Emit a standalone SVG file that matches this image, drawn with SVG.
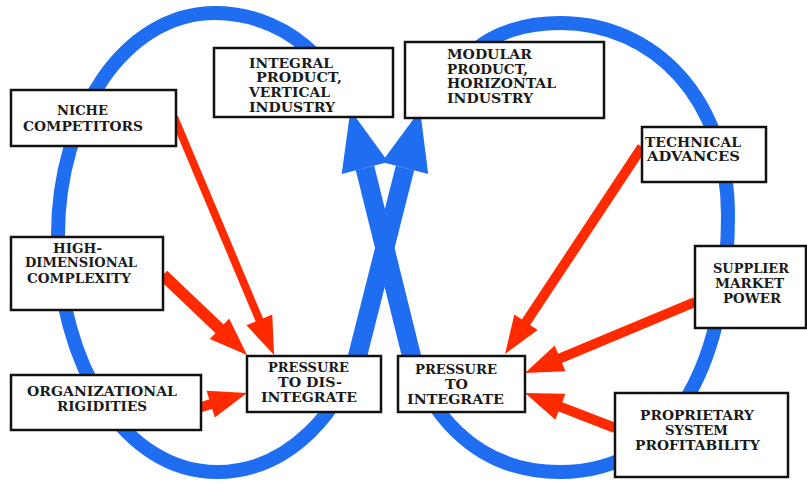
<svg xmlns="http://www.w3.org/2000/svg" width="807" height="484" viewBox="0 0 807 484">
  <style>
    .box { fill: #ffffff; stroke: #111111; stroke-width: 2.5; }
    .lbl { font-family: "DejaVu Serif", "Liberation Serif", serif; font-weight: bold; font-size: 12.5px; fill: #1a1a1a; }
    .loop { fill: none; stroke: #1f6ef2; stroke-width: 14; }
    .shaft { fill: none; stroke: #1f6ef2; stroke-width: 19; }
    .head { fill: #1f6ef2; }
    .force { fill: none; stroke: #ff2a00; stroke-width: 10; marker-end: url(#redHead); }
  </style>
  <defs>
    <marker id="redHead" markerUnits="userSpaceOnUse" markerWidth="38" markerHeight="28" refX="4" refY="14" orient="auto" overflow="visible">
      <path d="M0,0 L38,14 L0,28 Z" fill="#ff2a00"/>
    </marker>
  </defs>

  <!-- connectors: the two feedback loops crossing in the middle, and the pressure arrows -->
  <g id="connectors">
    <!-- left loop: integral -> pressure to dis-integrate -> modular -->
    <path class="loop" d="M 315,55 C 290,30 255,13 215,13 C 125,13 58,115 58,235 C 58,365 125,472 217,472 C 292,472 343,405 356,356"/>
    <line class="shaft" x1="356" y1="362" x2="405" y2="168"/>
    <polygon class="head" points="381.8,162 420.1,110 428.2,174"/>
    <!-- right loop: modular -> pressure to integrate -> integral -->
    <path class="loop" d="M 475,50 C 495,33 525,23 560,23 C 655,23 728,100 728,215 C 728,350 680,472 560,472 C 470,472 426,405 412,356"/>
    <line class="shaft" x1="413" y1="362" x2="365" y2="168"/>
    <polygon class="head" points="341.7,174 350.4,110 388.3,162"/>

    <!-- pressure arrows -->
    <line class="force" style="stroke-width:8" x1="174" y1="117" x2="260.9" y2="323.6"/>
    <line class="force" style="stroke-width:12" x1="163" y1="275" x2="222.4" y2="331.5"/>
    <line class="force" x1="195" y1="409" x2="214.5" y2="403"/>
    <line class="force" x1="642" y1="147" x2="523.8" y2="325.6"/>
    <line class="force" x1="695" y1="302" x2="556.4" y2="359.9"/>
    <line class="force" x1="615" y1="428" x2="556.7" y2="405.3"/>
  </g>

  <g id="integral-vertical">
    <rect class="box" x="214" y="48" width="179" height="69"/>
    <text class="lbl" x="249" y="68" textLength="84" lengthAdjust="spacingAndGlyphs">INTEGRAL</text>
    <text class="lbl" x="256" y="82" textLength="86" lengthAdjust="spacingAndGlyphs">PRODUCT,</text>
    <text class="lbl" x="249" y="97" textLength="81" lengthAdjust="spacingAndGlyphs">VERTICAL</text>
    <text class="lbl" x="249" y="112" textLength="86" lengthAdjust="spacingAndGlyphs">INDUSTRY</text>
  </g>

  <g id="modular-horizontal">
    <rect class="box" x="405" y="42" width="199" height="76"/>
    <text class="lbl" x="447" y="59" textLength="85" lengthAdjust="spacingAndGlyphs">MODULAR</text>
    <text class="lbl" x="447" y="74" textLength="81" lengthAdjust="spacingAndGlyphs">PRODUCT,</text>
    <text class="lbl" x="447" y="88" textLength="109" lengthAdjust="spacingAndGlyphs">HORIZONTAL</text>
    <text class="lbl" x="447" y="103" textLength="86" lengthAdjust="spacingAndGlyphs">INDUSTRY</text>
  </g>

  <g id="niche-competitors">
    <rect class="box" x="11" y="90" width="165" height="56"/>
    <text class="lbl" x="57" y="115" textLength="51" lengthAdjust="spacingAndGlyphs">NICHE</text>
    <text class="lbl" x="23" y="131" textLength="120" lengthAdjust="spacingAndGlyphs">COMPETITORS</text>
  </g>

  <g id="technical-advances">
    <rect class="box" x="642" y="127" width="124" height="55"/>
    <text class="lbl" x="645" y="147" textLength="96" lengthAdjust="spacingAndGlyphs">TECHNICAL</text>
    <text class="lbl" x="647" y="161" textLength="93" lengthAdjust="spacingAndGlyphs">ADVANCES</text>
  </g>

  <g id="high-dimensional-complexity">
    <rect class="box" x="11" y="237" width="152" height="73"/>
    <text class="lbl" x="53" y="253" textLength="49" lengthAdjust="spacingAndGlyphs">HIGH-</text>
    <text class="lbl" x="25" y="267" textLength="112" lengthAdjust="spacingAndGlyphs">DIMENSIONAL</text>
    <text class="lbl" x="27" y="283" textLength="104" lengthAdjust="spacingAndGlyphs">COMPLEXITY</text>
  </g>

  <g id="organizational-rigidities">
    <rect class="box" x="11" y="375" width="190" height="55"/>
    <text class="lbl" x="27" y="396" textLength="150" lengthAdjust="spacingAndGlyphs">ORGANIZATIONAL</text>
    <text class="lbl" x="57" y="411" textLength="90" lengthAdjust="spacingAndGlyphs">RIGIDITIES</text>
  </g>

  <g id="pressure-to-disintegrate">
    <rect class="box" x="247" y="356" width="134" height="56"/>
    <text class="lbl" x="268" y="372" textLength="81" lengthAdjust="spacingAndGlyphs">PRESSURE</text>
    <text class="lbl" x="278" y="387" textLength="64" lengthAdjust="spacingAndGlyphs">TO DIS-</text>
    <text class="lbl" x="261" y="402" textLength="96" lengthAdjust="spacingAndGlyphs">INTEGRATE</text>
  </g>

  <g id="pressure-to-integrate">
    <rect class="box" x="398" y="356" width="127" height="56"/>
    <text class="lbl" x="415" y="374" textLength="82" lengthAdjust="spacingAndGlyphs">PRESSURE</text>
    <text class="lbl" x="445" y="389" textLength="23" lengthAdjust="spacingAndGlyphs">TO</text>
    <text class="lbl" x="407" y="404" textLength="97" lengthAdjust="spacingAndGlyphs">INTEGRATE</text>
  </g>

  <g id="supplier-market-power">
    <rect class="box" x="695" y="246" width="111" height="82"/>
    <text class="lbl" x="713" y="273" textLength="76" lengthAdjust="spacingAndGlyphs">SUPPLIER</text>
    <text class="lbl" x="715" y="288" textLength="69" lengthAdjust="spacingAndGlyphs">MARKET</text>
    <text class="lbl" x="723" y="303" textLength="58" lengthAdjust="spacingAndGlyphs">POWER</text>
  </g>

  <g id="proprietary-system-profitability">
    <rect class="box" x="615" y="393" width="173" height="84"/>
    <text class="lbl" x="640" y="420" textLength="114" lengthAdjust="spacingAndGlyphs">PROPRIETARY</text>
    <text class="lbl" x="665" y="435" textLength="63" lengthAdjust="spacingAndGlyphs">SYSTEM</text>
    <text class="lbl" x="635" y="450" textLength="125" lengthAdjust="spacingAndGlyphs">PROFITABILITY</text>
  </g>
</svg>
